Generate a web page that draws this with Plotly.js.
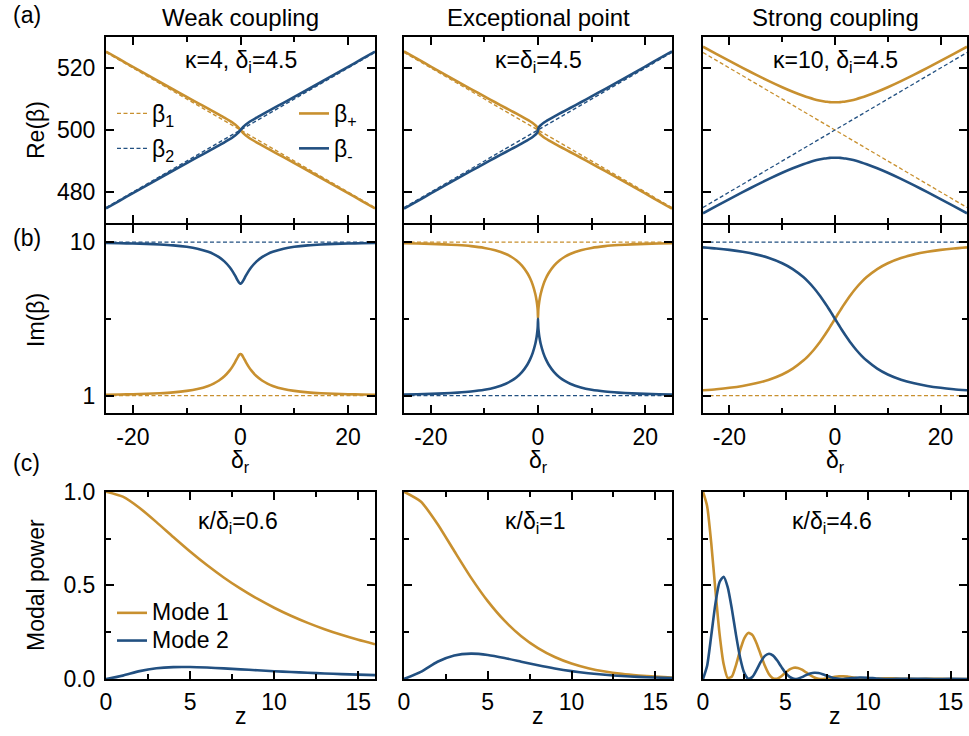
<!DOCTYPE html>
<html><head><meta charset="utf-8">
<script src="https://cdn.plot.ly/plotly-3.0.1.min.js"></script>
<style>html,body{margin:0;padding:0;background:#fff}</style>
</head><body><div id="chart" style="width:969px;height:736px"></div>
<script>
// ---------- data ----------
const dr = [-25,-22.5,-20,-17.5,-15,-12.5,-10,-8,-6,-5,-4,-3,-2,-1.5,-1,-0.5,-0.25,-0.1,-0.05,0,0.05,0.1,0.25,0.5,1,1.5,2,3,4,5,6,8,10,12.5,15,17.5,20,22.5,25];
const drEnds = [-25, 25];
const beta1Re = [525, 475];
const beta2Re = [475, 525];
const imLow = [1, 1];
const imHigh = [10, 10];

// weak coupling
const weakRePlus = [525.308,522.840,520.378,517.925,515.484,513.060,510.657,508.755,506.870,505.929,504.981,504.010,502.979,502.413,501.777,501.005,500.532,500.217,500.109,500.000,499.891,499.783,499.468,498.995,498.223,497.587,497.021,495.990,495.019,494.071,493.130,491.245,489.343,486.940,484.516,482.075,479.622,477.160,474.692];
const weakReMinus = [474.692,477.160,479.622,482.075,484.516,486.940,489.343,491.245,493.130,494.071,495.019,495.990,497.021,497.587,498.223,498.995,499.468,499.783,499.891,500.000,500.109,500.217,500.532,501.005,501.777,502.413,502.979,504.010,504.981,505.929,506.870,508.755,510.657,513.060,515.484,517.925,520.378,522.840,525.308];
const weakImPlus = [1.055,1.067,1.083,1.107,1.141,1.193,1.278,1.388,1.570,1.705,1.886,2.134,2.479,2.703,2.968,3.262,3.386,3.429,3.436,3.438,3.436,3.429,3.386,3.262,2.968,2.703,2.479,2.134,1.886,1.705,1.570,1.388,1.278,1.193,1.141,1.107,1.083,1.067,1.055];
const weakImMinus = [9.945,9.933,9.917,9.893,9.859,9.807,9.722,9.612,9.430,9.295,9.114,8.866,8.521,8.297,8.032,7.738,7.614,7.571,7.564,7.562,7.564,7.571,7.614,7.738,8.032,8.297,8.521,8.866,9.114,9.295,9.430,9.612,9.722,9.807,9.859,9.893,9.917,9.933,9.945];

// exceptional point
const epRePlus = [525.390,522.929,520.477,518.037,515.611,513.206,510.829,508.954,507.103,506.184,505.263,504.328,503.350,502.823,502.242,501.542,501.076,500.675,500.476,500.000,499.524,499.325,498.924,498.458,497.758,497.177,496.650,495.672,494.737,493.816,492.897,491.046,489.171,486.794,484.389,481.963,479.523,477.071,474.610];
const epReMinus = [474.610,477.071,479.523,481.963,484.389,486.794,489.171,491.046,492.897,493.816,494.737,495.672,496.650,497.177,497.758,498.458,498.924,499.325,499.524,500.000,500.476,500.675,501.076,501.542,502.242,502.823,503.350,504.328,505.263,506.184,507.103,508.954,510.829,513.206,515.611,518.037,520.477,522.929,525.390];
const epImPlus = [9.931,9.916,9.895,9.866,9.824,9.760,9.656,9.521,9.301,9.139,8.920,8.619,8.187,7.891,7.507,6.959,6.546,6.167,5.973,5.500,5.973,6.167,6.546,6.959,7.507,7.891,8.187,8.619,8.920,9.139,9.301,9.521,9.656,9.760,9.824,9.866,9.895,9.916,9.931];
const epImMinus = [1.069,1.084,1.105,1.134,1.176,1.240,1.344,1.479,1.699,1.861,2.080,2.381,2.813,3.109,3.493,4.041,4.454,4.833,5.027,5.500,5.027,4.833,4.454,4.041,3.493,3.109,2.813,2.381,2.080,1.861,1.699,1.479,1.344,1.240,1.176,1.134,1.105,1.084,1.069];

// strong coupling
const strongRePlus = [526.875,524.556,522.273,520.036,517.862,515.771,513.798,512.339,511.034,510.458,509.951,509.527,509.204,509.086,509.000,508.948,508.934,508.931,508.930,508.930,508.930,508.931,508.934,508.948,509.000,509.086,509.204,509.527,509.951,510.458,511.034,512.339,513.798,515.771,517.862,520.036,522.273,524.556,526.875];
const strongReMinus = [473.125,475.444,477.727,479.964,482.138,484.229,486.202,487.661,488.966,489.542,490.049,490.473,490.796,490.914,491.000,491.052,491.066,491.069,491.070,491.070,491.070,491.069,491.066,491.052,491.000,490.914,490.796,490.473,490.049,489.542,488.966,487.661,486.202,484.229,482.138,479.964,477.727,475.444,473.125];
const strongImPlus = [1.314,1.377,1.459,1.570,1.721,1.933,2.239,2.582,3.053,3.349,3.691,4.083,4.522,4.757,5.000,5.248,5.374,5.450,5.475,5.500,5.525,5.550,5.626,5.752,6.000,6.243,6.478,6.917,7.309,7.651,7.947,8.418,8.761,9.067,9.279,9.430,9.541,9.623,9.686];
const strongImMinus = [9.686,9.623,9.541,9.430,9.279,9.067,8.761,8.418,7.947,7.651,7.309,6.917,6.478,6.243,6.000,5.752,5.626,5.550,5.525,5.500,5.475,5.450,5.374,5.248,5.000,4.757,4.522,4.083,3.691,3.349,3.053,2.582,2.239,1.933,1.721,1.570,1.459,1.377,1.314];

// modal power vs z
const zSteps = [0,1,2,3,4,5,6,7,8,9,10,11,12,13,14,15,16];
const weakMode1 = [1,0.9734,0.9131,0.8376,0.7580,0.6806,0.6084,0.5422,0.4823,0.4285,0.3805,0.3377,0.2997,0.2659,0.2359,0.2092,0.1855];
const weakMode2 = [0,0.0181,0.0421,0.0572,0.0635,0.0638,0.0610,0.0566,0.0516,0.0465,0.0417,0.0372,0.0331,0.0294,0.0262,0.0232,0.0206];
const epMode1 = [1,0.9477,0.8277,0.6833,0.5413,0.4156,0.3112,0.2284,0.1648,0.1173,0.0825,0.0575,0.0397,0.0272,0.0185,0.0125,0.0084];
const epMode2 = [0,0.0379,0.0920,0.1255,0.1353,0.1283,0.1120,0.0925,0.0733,0.0562,0.0421,0.0309,0.0223,0.0159,0.0112,0.0078,0.0054];
const zFine = [0,0.25,0.5,0.75,1,1.25,1.5,1.75,2,2.25,2.5,2.75,3,3.25,3.5,3.75,4,4.25,4.5,4.75,5,5.25,5.5,5.75,6,6.25,6.5,6.75,7,7.25,7.5,7.75,8,8.25,8.5,8.75,9,9.5,10,10.5,11,11.5,12,13,14,15,16];
const strongMode1 = [1,0.9228,0.7254,0.4760,0.2439,0.0800,0.0056,0.0132,0.0746,0.1535,0.2174,0.2460,0.2342,0.1901,0.1296,0.0703,0.0259,0.0032,0.0016,0.0148,0.0341,0.0511,0.0601,0.0591,0.0495,0.0350,0.0200,0.0081,0.0015,0.0001,0.0028,0.0075,0.0119,0.0146,0.0148,0.0128,0.0094,0.0025,0.0000,0.0016,0.0035,0.0033,0.0016,0.0001,0.0009,0.0002,0.0001];
const strongMode2 = [0,0.0710,0.2316,0.4013,0.5170,0.5462,0.4895,0.3732,0.2356,0.1137,0.0326,0.0008,0.0117,0.0486,0.0915,0.1236,0.1351,0.1249,0.0984,0.0647,0.0333,0.0110,0.0008,0.0017,0.0100,0.0206,0.0293,0.0332,0.0317,0.0258,0.0176,0.0096,0.0036,0.0005,0.0002,0.0020,0.0046,0.0081,0.0067,0.0027,0.0002,0.0004,0.0016,0.0013,0.0000,0.0005,0.0002];

// tick labels / texts
const colTitles = ['Weak coupling', 'Exceptional point', 'Strong coupling'];
const paramA = ['κ=4, δ<sub>i</sub>=4.5', 'κ=δ<sub>i</sub>=4.5', 'κ=10, δ<sub>i</sub>=4.5'];
const paramC = ['κ/δ<sub>i</sub>=0.6', 'κ/δ<sub>i</sub>=1', 'κ/δ<sub>i</sub>=4.6'];
const drTicks = [-20, 0, 20], drTickText = ['-20', '0', '20'], drMinor = [-10, 10];
const reTicks = [480, 500, 520], reTickText = ['480', '500', '520'];
const imTicks = [1, 10], imTickText = ['1', '10'], imMinor = [5.5];
const zTicks = [0, 5, 10, 15], zTickText = ['0', '5', '10', '15'], zMinor = [2.5, 7.5, 12.5];
const pTicks = [0, 0.5, 1], pTickText = ['0.0', '0.5', '1.0'], pMinor = [0.25, 0.75];

// ---------- styling ----------
const FONT = 'Liberation Sans, Arial, Helvetica, sans-serif';
const FS = 23;
const ORANGE = '#C8902F', BLUE = '#225081';
const W = 969, H = 736;
const colPx = [[106, 375], [404, 672], [703, 967]];
const rowPx = [[37, 223], [225, 412.7], [491.7, 679]];
const xd = c => [colPx[c][0] / W, colPx[c][1] / W];
const yd = r => [1 - rowPx[r][1] / H, 1 - rowPx[r][0] / H];

const traces = [];
function line(x, y, n, color, dashed, extra) {
  const t = Object.assign({
    type: 'scatter', mode: 'lines', x: x, y: y,
    xaxis: 'x' + (n === 1 ? '' : n), yaxis: 'y' + (n === 1 ? '' : n),
    line: dashed ? {color: color, width: 1.3, dash: '4px,2.5px'} : {color: color, width: 2.6, shape: 'spline', smoothing: 0.6},
    showlegend: false, hoverinfo: 'skip', cliponaxis: true
  }, extra || {});
  traces.push(t);
}

const reSets = [[weakRePlus, weakReMinus], [epRePlus, epReMinus], [strongRePlus, strongReMinus]];
const imSets = [[weakImPlus, weakImMinus], [epImPlus, epImMinus], [strongImPlus, strongImMinus]];
const imDash = [[imLow, imHigh], [imHigh, imLow], [imLow, imHigh]]; // [orange dashed, blue dashed]
const modeSets = [[zSteps, weakMode1, weakMode2], [zSteps, epMode1, epMode2], [zFine, strongMode1, strongMode2]];

for (let c = 0; c < 3; c++) {
  const na = c + 1, nb = c + 4, nc = c + 7;
  const first = c === 0;
  // row a
  line(drEnds, beta1Re, na, ORANGE, true, first ? {showlegend: true, name: 'β<sub>1</sub>', legend: 'legend', legendgroup: 'b1'} : {});
  line(drEnds, beta2Re, na, BLUE, true, first ? {showlegend: true, name: 'β<sub>2</sub>', legend: 'legend', legendgroup: 'b2'} : {});
  line(dr, reSets[c][0], na, ORANGE, false, first ? {showlegend: true, name: 'β<sub>+</sub>', legend: 'legend2', legendgroup: 'bp'} : {});
  line(dr, reSets[c][1], na, BLUE, false, first ? {showlegend: true, name: 'β<sub>-</sub>', legend: 'legend2', legendgroup: 'bm'} : {});
  // row b
  line(drEnds, imDash[c][0], nb, ORANGE, true);
  line(drEnds, imDash[c][1], nb, BLUE, true);
  line(dr, imSets[c][0], nb, ORANGE, false);
  line(dr, imSets[c][1], nb, BLUE, false);
  // row c
  line(modeSets[c][0], modeSets[c][1], nc, ORANGE, false, first ? {showlegend: true, name: '<span style="font-size:23px">Mode 1</span>', legend: 'legend3'} : {});
  line(modeSets[c][0], modeSets[c][2], nc, BLUE, false, first ? {showlegend: true, name: '<span style="font-size:23px">Mode 2</span>', legend: 'legend3'} : {});
}

const base = {
  showline: true, linewidth: 2, linecolor: '#000', mirror: 'allticks',
  ticks: 'inside', ticklen: 8, tickwidth: 2, tickcolor: '#000',
  showgrid: false, zeroline: false, fixedrange: true,
  tickfont: {size: FS, family: FONT, color: '#000'}, tickmode: 'array'
};
function minor(vals) { return {tickmode: 'array', tickvals: vals, ticks: 'inside', ticklen: 5, tickwidth: 2, tickcolor: '#000'}; }
const legBase = {xanchor: 'left', yanchor: 'top', bgcolor: 'rgba(0,0,0,0)', borderwidth: 0, traceorder: 'grouped', tracegroupgap: 2};

const layout = {
  width: W, height: H, margin: {l: 0, r: 0, t: 0, b: 0},
  paper_bgcolor: '#fff', plot_bgcolor: '#fff',
  font: {family: FONT, size: FS, color: '#000'},
  showlegend: true,
  legend: Object.assign({x: 112 / W, y: 1 - 92 / H, font: {size: FS}}, legBase),
  legend2: Object.assign({x: 294 / W, y: 1 - 92 / H, font: {size: FS}}, legBase),
  legend3: Object.assign({x: 112 / W, y: 1 - 594 / H, font: {size: 19}}, legBase, {traceorder: 'normal', tracegroupgap: 0}),
  annotations: []
};

for (let c = 0; c < 3; c++) {
  const na = c + 1, nb = c + 4, nc = c + 7;
  const sfx = n => (n === 1 ? '' : String(n));
  layout['xaxis' + sfx(na)] = Object.assign({}, base, {domain: xd(c), anchor: 'y' + sfx(na), range: [-25, 25], tickvals: drTicks, ticktext: drTickText, showticklabels: false, minor: minor(drMinor)});
  layout['yaxis' + sfx(na)] = Object.assign({}, base, {domain: yd(0), anchor: 'x' + sfx(na), range: [470, 530], tickvals: reTicks, ticktext: reTickText, showticklabels: c === 0, ticklabelstandoff: 4});
  layout['xaxis' + nb] = Object.assign({}, base, {domain: xd(c), anchor: 'y' + nb, range: [-25, 25], tickvals: drTicks, ticktext: drTickText, minor: minor(drMinor), ticklabelstandoff: 3});
  layout['yaxis' + nb] = Object.assign({}, base, {domain: yd(1), anchor: 'x' + nb, range: [0, 11], tickvals: imTicks, ticktext: imTickText, showticklabels: c === 0, minor: minor(imMinor), ticklabelstandoff: 4});
  layout['xaxis' + nc] = Object.assign({}, base, {domain: xd(c), anchor: 'y' + nc, range: [0, 16], tickvals: zTicks, ticktext: zTickText, minor: minor(zMinor), ticklabelstandoff: 1});
  layout['yaxis' + nc] = Object.assign({}, base, {domain: yd(2), anchor: 'x' + nc, range: [0, 1], tickvals: pTicks, ticktext: pTickText, showticklabels: c === 0, minor: minor(pMinor), ticklabelstandoff: 4});

  const cx = (colPx[c][0] + colPx[c][1]) / 2 / W;
  layout.annotations.push({text: colTitles[c], xref: 'paper', yref: 'paper', x: cx, y: 1 - 17 / H, xanchor: 'center', yanchor: 'middle', showarrow: false, font: {size: 24}});
  layout.annotations.push({text: paramA[c], xref: 'paper', yref: 'paper', x: cx, y: 1 - 62 / H, xanchor: 'center', yanchor: 'middle', showarrow: false, font: {size: FS}});
  layout.annotations.push({text: paramC[c], xref: 'paper', yref: 'paper', x: cx - 3 / W, y: 1 - 522 / H, xanchor: 'center', yanchor: 'middle', showarrow: false, font: {size: FS}});
  layout.annotations.push({text: 'δ<sub>r</sub>', xref: 'paper', yref: 'paper', x: cx, y: 1 - 462 / H, xanchor: 'center', yanchor: 'middle', showarrow: false, font: {size: FS}});
  layout.annotations.push({text: 'z', xref: 'paper', yref: 'paper', x: cx, y: 1 - 716 / H, xanchor: 'center', yanchor: 'middle', showarrow: false, font: {size: FS}});
}
const panelLabels = [['(a)', 15], ['(b)', 238], ['(c)', 463]];
panelLabels.forEach(p => layout.annotations.push({text: p[0], xref: 'paper', yref: 'paper', x: 11 / W, y: 1 - p[1] / H, xanchor: 'left', yanchor: 'middle', showarrow: false, font: {size: FS}}));
const yTitles = [['Re(β)', 130], ['Im(β)', 320], ['Modal power', 585]];
yTitles.forEach(t => layout.annotations.push({text: t[0], xref: 'paper', yref: 'paper', x: 36 / W, y: 1 - t[1] / H, xanchor: 'center', yanchor: 'middle', textangle: -90, showarrow: false, font: {size: FS}}));

Plotly.newPlot('chart', traces, layout, {staticPlot: true, displayModeBar: false});
</script>
</body></html>
